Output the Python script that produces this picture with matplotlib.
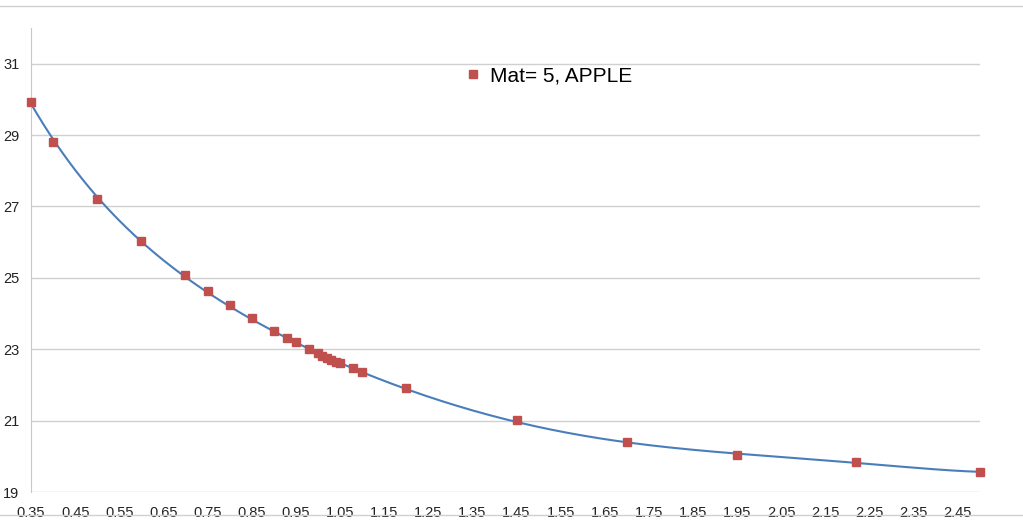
import matplotlib.pyplot as plt
from matplotlib.lines import Line2D
import numpy as np

# data
x_vals = [0.35, 0.40, 0.50, 0.60, 0.70, 0.75, 0.80, 0.85, 0.90, 0.93, 0.95, 0.98,
          1.00, 1.01, 1.02, 1.03, 1.04, 1.05, 1.08, 1.10, 1.20, 1.45, 1.70, 1.95,
          2.22, 2.50]
y_vals = [29.94, 28.82, 27.22, 26.02, 25.07, 24.62, 24.23, 23.87, 23.50, 23.31,
          23.20, 23.00, 22.89, 22.80, 22.75, 22.69, 22.64, 22.61, 22.47, 22.36,
          21.91, 21.01, 20.40, 20.03, 19.84, 19.56]
series_label = 'Mat= 5, APPLE'
x_ticks = [0.35 + 0.1 * i for i in range(22)]
y_ticks = [19, 21, 23, 25, 27, 29, 31]

plt.rcParams['font.family'] = ['Liberation Sans', 'DejaVu Sans']

fig = plt.figure(figsize=(10.23, 5.23), dpi=100)
ax = fig.add_axes([31 / 1023, 31 / 523, 949 / 1023, 464 / 523])

# polynomial trendline of the points
coef = np.polyfit(x_vals, y_vals, 6)
xs = np.linspace(0.35, 2.5, 300)
ax.plot(xs, np.polyval(coef, xs), color='#4a7ebb', lw=1.5, zorder=2)
ax.plot(x_vals, y_vals, 's', color='#c0504d', ms=6, mec='#c0504d', zorder=3,
        clip_on=False)

ax.set_xlim(0.35, 2.50)
ax.set_ylim(19, 32)
ax.set_xticks(x_ticks)
ax.set_xticklabels([f'{t:.2f}' for t in x_ticks])
ax.set_yticks(y_ticks)
ax.tick_params(length=0, labelsize=10.5, colors='#222222')
ax.tick_params(axis='x', pad=10)
ax.tick_params(axis='y', pad=20)
for lab in ax.get_yticklabels():
    lab.set_horizontalalignment('left')
ax.yaxis.grid(True, color='#d0d0d0', lw=1)
ax.set_axisbelow(True)
for s in ['top', 'right', 'bottom']:
    ax.spines[s].set_visible(False)
ax.spines['left'].set_color('#c8c8c8')

# legend
handle = Line2D([], [], marker='s', ls='', color='#c0504d', ms=6)
fig.legend([handle], [series_label], loc='center left',
           bbox_to_anchor=(442 / 1023, 1 - 76 / 523), frameon=False,
           fontsize=15, handletextpad=0.2, handlelength=1.2)

# chart border lines (cropped frame)
fig.add_artist(Line2D([0, 1], [1 - 6 / 523, 1 - 6 / 523], color='#d0d0d0', lw=1))
fig.add_artist(Line2D([0, 1], [1 - 515 / 523, 1 - 515 / 523], color='#d0d0d0', lw=1))

fig.savefig('out.png', dpi=100)
